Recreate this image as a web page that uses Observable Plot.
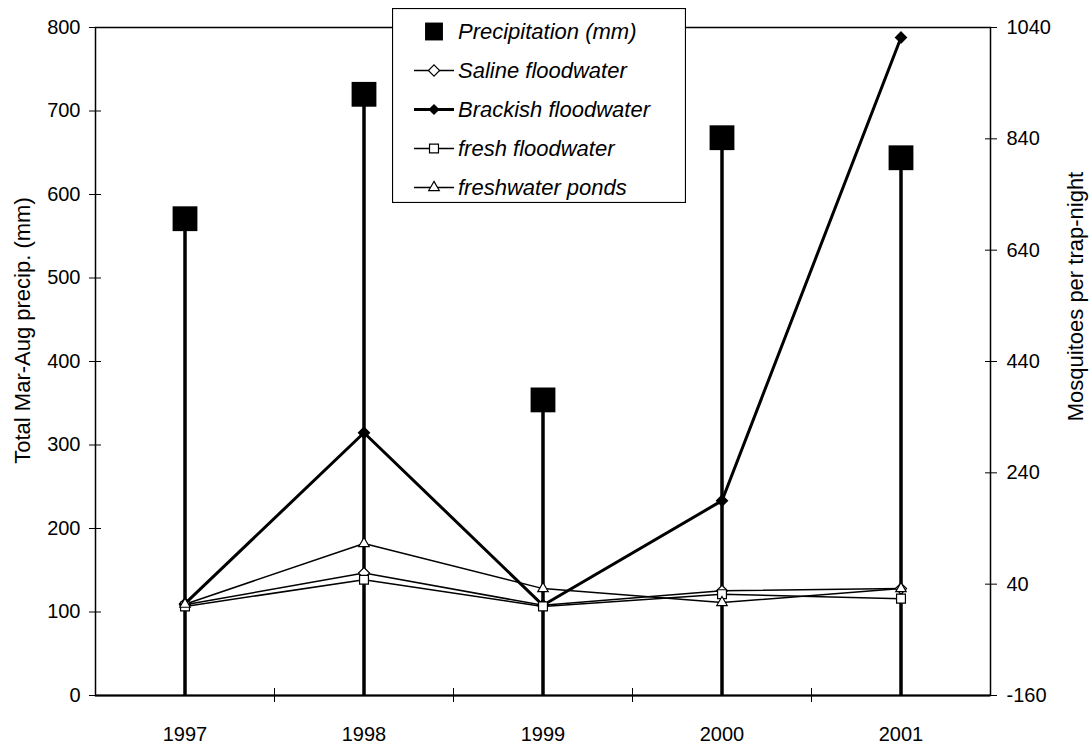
<!DOCTYPE html>
<html>
<head>
<meta charset="utf-8">
<script src="https://cdn.jsdelivr.net/npm/d3@7"></script>
<script src="https://cdn.jsdelivr.net/npm/@observablehq/plot@0.6"></script>
<style>
  body { margin: 0; background: #fff; }
  #chart { position: relative; width: 1092px; height: 753px; font-family: "Liberation Sans", Arial, sans-serif; }
  #chart > svg.plot-main { position: absolute; left: 0; top: 0; }
  #chart > svg#legend { position: absolute; left: 392px; top: 8px; }
</style>
</head>
<body>
<div id="chart"></div>
<script>
// Seasonal (Mar–Aug) precipitation and mosquito catches by habitat, 1997–2001
const years = [1997, 1998, 1999, 2000, 2001];
const precipitation = [571, 720, 354, 668, 644];      // mm, left axis
const saline = [3, 60, 2, 28, 32];                      // mosquitoes per trap-night, right axis
const brackish = [5, 312, 2, 190, 1022];
const fresh = [0, 48, 0, 22, 14];
const ponds = [4, 113, 32, 7, 32];

const leftTicks = [0, 100, 200, 300, 400, 500, 600, 700, 800];
const rightTicks = [-160, 40, 240, 440, 640, 840, 1040];
const yearBoundaries = [1997.5, 1998.5, 1999.5, 2000.5];

const leftTitle = "Total Mar-Aug precip. (mm)";
const rightTitle = "Mosquitoes per trap-night";

// The right axis runs from -160 to 1040 over the same height as 0–800 on the left.
const toLeft = m => (m + 160) * 800 / 1200;
const fromLeft = v => v * 1200 / 800 - 160;

const precipRows = years.map((year, i) => ({year, value: precipitation[i]}));
const seriesDefs = [
  {name: "Saline floodwater", values: saline, symbol: "diamond2", fill: "#fff", width: 1.5},
  {name: "Brackish floodwater", values: brackish, symbol: "diamond2", fill: "#000", width: 3},
  {name: "fresh floodwater", values: fresh, symbol: "square", fill: "#fff", width: 1.5},
  {name: "freshwater ponds", values: ponds, symbol: "triangle2", fill: "#fff", width: 1.5}
];
const seriesRows = s => years.map((year, i) => ({year, value: toLeft(s.values[i]), series: s.name}));

const marks = [
  Plot.frame({stroke: "#000", strokeWidth: 1.5}),
  Plot.ruleY([0], {stroke: "#000", strokeWidth: 2}),
  // crossing tick marks
  Plot.axisY(leftTicks, {anchor: "left", tickSize: 12, dx: 6, tickFormat: () => "", label: null}),
  Plot.axisY(leftTicks, {anchor: "left", tickSize: 0, tickPadding: 15, label: null}),
  Plot.axisY(rightTicks.map(toLeft), {anchor: "right", tickSize: 12, dx: -6, tickFormat: () => "", label: null}),
  Plot.axisY(rightTicks.map(toLeft), {anchor: "right", tickSize: 0, tickPadding: 16, tickFormat: d => String(Math.round(fromLeft(d))), label: null}),
  Plot.axisX(yearBoundaries, {anchor: "bottom", tickSize: 14, dy: -7, tickFormat: () => "", label: null}),
  Plot.axisX(years, {anchor: "bottom", tickSize: 0, tickPadding: 31, tickFormat: d => String(d), label: null}),
  Plot.text([leftTitle], {frameAnchor: "left", rotate: -90, textAnchor: "middle", dx: -73, dy: -31, fontSize: 22, text: d => d}),
  Plot.text([rightTitle], {frameAnchor: "right", rotate: -90, textAnchor: "middle", dx: 85, dy: -65, fontSize: 22, text: d => d}),
  // precipitation stems and squares
  Plot.ruleX(precipRows, {x: "year", y1: 0, y2: "value", stroke: "#000", strokeWidth: 3.5}),
  Plot.dot(precipRows, {x: "year", y: "value", symbol: "square", r: 14, fill: "#000", stroke: "none"})
];

for (const s of seriesDefs) {
  marks.push(Plot.line(seriesRows(s), {x: "year", y: "value", stroke: "#000", strokeWidth: s.width}));
}
for (const s of seriesDefs) {
  marks.push(Plot.dot(seriesRows(s), {x: "year", y: "value", symbol: s.symbol, r: 5, fill: s.fill, stroke: "#000", strokeWidth: 1.2}));
}

const chart = Plot.plot({
  width: 1092,
  height: 753,
  marginLeft: 95,
  marginRight: 102,
  marginTop: 27,
  marginBottom: 58,
  style: {fontFamily: "Liberation Sans, Arial, sans-serif", fontSize: "20px", color: "#000", background: "#fff"},
  x: {domain: [1996.5, 2001.5]},
  y: {domain: [0, 800]},
  marks
});
chart.classList.add("plot-main");
document.getElementById("chart").appendChild(chart);

// legend box
const legendItems = [
  {name: "Precipitation (mm)", symbol: d3.symbolSquare, size: 320, fill: "#000", line: 0},
  ...seriesDefs.map(s => ({
    name: s.name,
    symbol: s.symbol === "diamond2" ? d3.symbolDiamond2 : s.symbol === "square" ? d3.symbolSquare : d3.symbolTriangle2,
    size: 80, fill: s.fill, line: s.width
  }))
];
const lw = 294, lh = 195;
const legend = d3.select("#chart").append("svg")
  .attr("id", "legend").attr("width", lw).attr("height", lh);
legend.append("rect").attr("x", 0.5).attr("y", 0.5).attr("width", lw - 1).attr("height", lh - 1)
  .attr("fill", "#fff").attr("stroke", "#000").attr("stroke-width", 1.2);
const row = legend.selectAll("g.item").data(legendItems).join("g")
  .attr("class", "item")
  .attr("transform", (d, i) => `translate(0,${23.5 + i * 39})`);
row.filter(d => d.line > 0).append("line")
  .attr("x1", 22).attr("x2", 62).attr("y1", 0).attr("y2", 0)
  .attr("stroke", "#000").attr("stroke-width", d => d.line);
row.append("path")
  .attr("transform", "translate(42,0)")
  .attr("d", d => d3.symbol(d.symbol, d.size)())
  .attr("fill", d => d.fill).attr("stroke", d => d.fill === "#000" ? "none" : "#000").attr("stroke-width", 1.2);
row.append("text")
  .attr("x", 66).attr("y", 0).attr("dy", "0.35em")
  .attr("font-family", "Liberation Sans, Arial, sans-serif")
  .attr("font-style", "italic").attr("font-size", 22)
  .text(d => d.name);
</script>
</body>
</html>
